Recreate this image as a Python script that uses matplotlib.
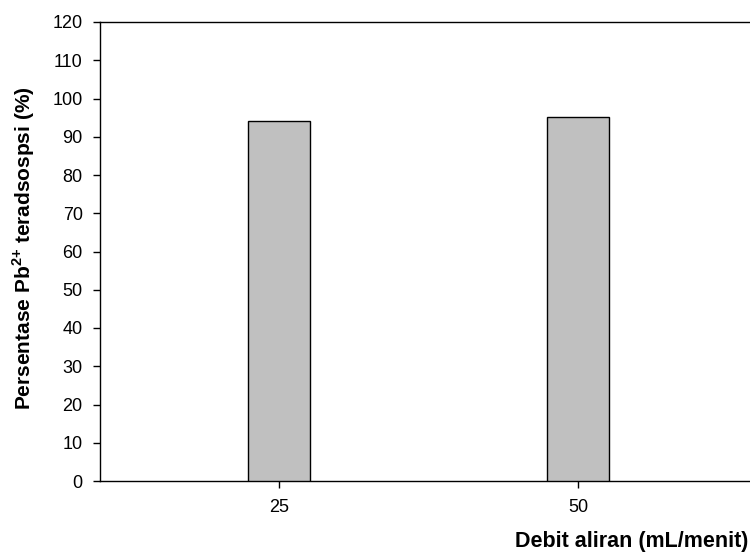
import matplotlib
matplotlib.use("Agg")
import matplotlib.pyplot as plt

flow_rates = [25, 50]
adsorbed_pct = [94.2, 95.2]
y_ticks = list(range(0, 121, 10))

plt.rcParams['font.family'] = ['Liberation Sans', 'DejaVu Sans']
plt.rcParams['mathtext.fontset'] = 'custom'
plt.rcParams['mathtext.rm'] = 'Liberation Sans'
plt.rcParams['mathtext.bf'] = 'Liberation Sans:bold'

fig = plt.figure(figsize=(7.5, 5.52), dpi=100)
ax = fig.add_axes([100/750, 1-481/552, 1-100/750, (481-22)/552])

ax.bar(flow_rates, adsorbed_pct, width=5.2, color='#c0c0c0', edgecolor='black', linewidth=1.0, zorder=3)

ax.set_xlim(10, 64.4)
ax.set_ylim(0, 120)
ax.set_yticks(y_ticks)
ax.set_xticks(flow_rates)
ax.tick_params(axis='both', direction='out', length=5, width=1, labelsize=13, color='black')
ax.tick_params(axis='y', pad=7.5)
ax.tick_params(axis='x', pad=8)
ax.spines['right'].set_visible(False)
for s in ['left', 'bottom', 'top']:
    ax.spines[s].set_linewidth(1.0)
    ax.spines[s].set_color('black')

fig.text(748/750, 1-547/552, 'Debit aliran (mL/menit)', ha='right', va='baseline',
         fontsize=15.5, fontweight='bold')
fig.text(24/750, 1-248/552, r'Persentase Pb$^{\mathbf{2{+}}}$ teradsospsi (%)', ha='center', va='center',
         rotation=90, fontsize=15, fontweight='bold')

fig.savefig('out.png', dpi=100)
